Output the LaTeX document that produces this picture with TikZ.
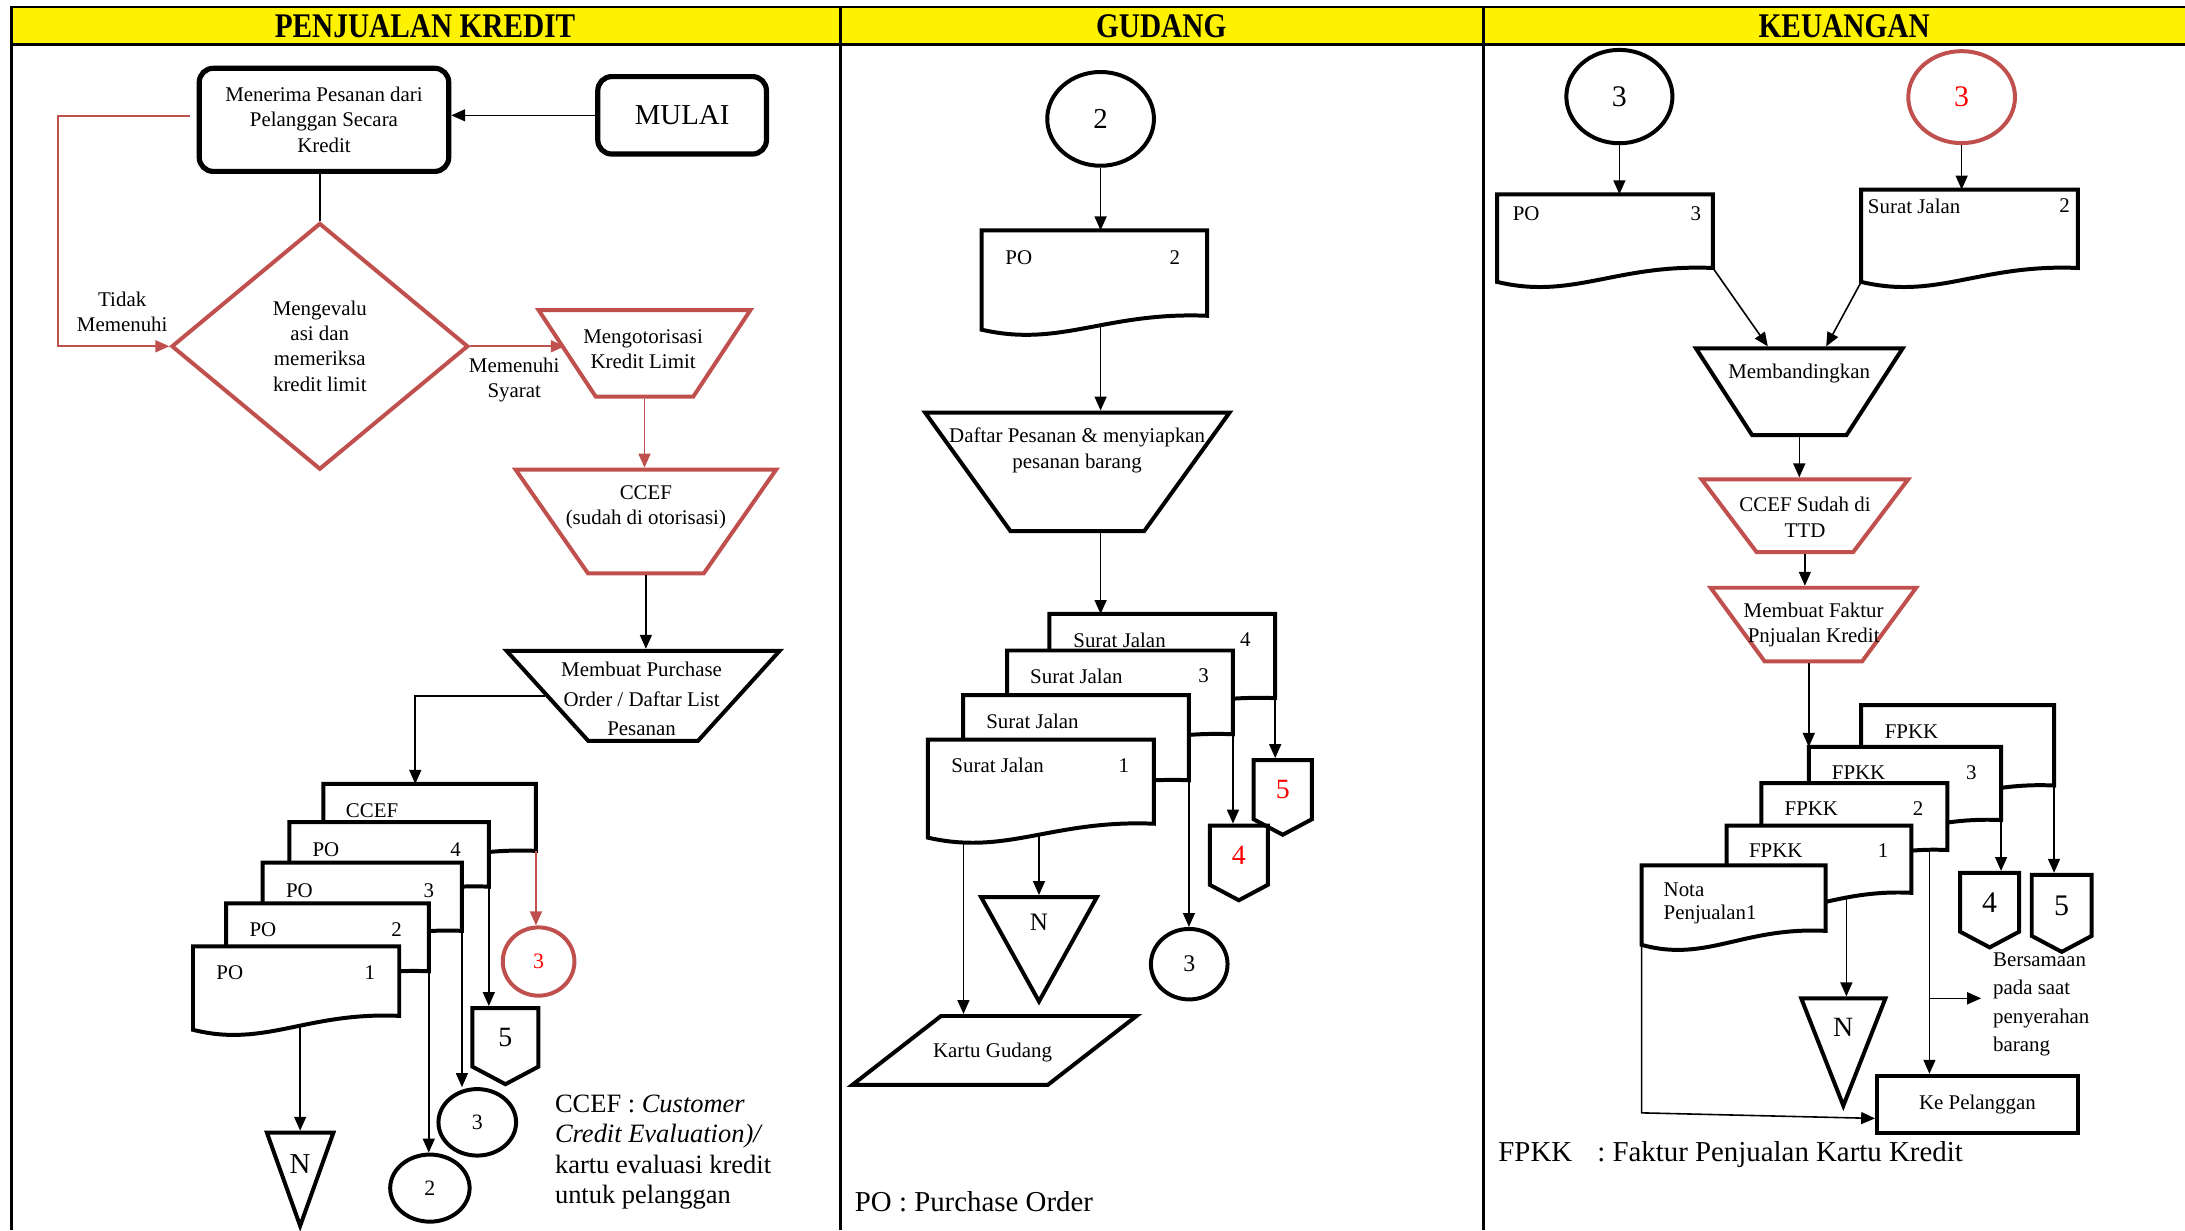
\documentclass[tikz,border=0pt]{standalone}
\usepackage{fontspec}
\setmainfont{Liberation Serif}
\usetikzlibrary{shapes.geometric,shapes.symbols,arrows.meta,calc}
\definecolor{merahgaris}{HTML}{C0504D}

\newcommand{\dokumen}[5]{%
  \draw[garisdok] (#2,#3) -- (#4,#3) -- (#4,#5)
    .. controls ({#2+0.55*(#4-#2)},#5-3) and ({#2+0.35*(#4-#2)},#5+23) .. (#2,#5+10) -- cycle;
  \coordinate (#1-tl) at (#2,#3);
  \coordinate (#1-top) at ({(#2+#4)/2},#3);
  \coordinate (#1-br) at (#4,#5);
  \coordinate (#1-bl) at (#2,#5+10);
  \coordinate (#1-mid) at ({(#2+#4)/2},#5+8);
}

\begin{document}
\begin{tikzpicture}[x=0.7pt,y=-0.7pt,
    garis/.style={line width=1.4pt},
    panah/.style={-{Triangle[length=7pt,width=6pt]},line width=0.8pt},
    panahmerah/.style={panah,draw=merahgaris},
    teks/.style={inner sep=0pt,align=center,font=\fontsize{10.5pt}{12.6pt}\selectfont},
    besar/.style={inner sep=0pt,font=\fontsize{14.5pt}{17pt}\selectfont},
    judul/.style={inner sep=0pt,font=\fontsize{15.5pt}{18pt}\selectfont\bfseries},
    garisdok/.style={draw,line width=2pt,fill=white},
    proses/.style={draw,line width=2.6pt,rounded corners=7pt,fill=white,teks},
    keputusan/.style={diamond,draw=merahgaris,line width=2pt,teks},
    trap/.style={trapezium,trapezium stretches=true,shape border rotate=180,draw,line width=2pt,inner sep=1pt},
    jajar/.style={trapezium,trapezium stretches=true,draw,line width=2pt,inner sep=1pt},
    lingkar/.style={ellipse,draw,line width=2pt,inner sep=0pt},
    offpage/.style={signal,signal to=south,signal pointer angle=124,draw,line width=2pt,inner sep=0pt},
    segitiga/.style={isosceles triangle,isosceles triangle stretches,shape border rotate=270,draw,line width=2pt,inner sep=1pt},
    kotak/.style={draw,line width=2pt,teks}]
  \useasboundingbox (0,0) rectangle (1568,883);
  \fill[yellow] (8,5) rectangle (1568,32);
  \draw[garis] (1568,5) -- (8,5) -- (8,883) (8,32) -- (1568,32) (603.4,5) -- (603.4,883) (1064.5,5) -- (1064.5,883);
  \node[judul] (judul1) at (305,18.5) {\scalebox{0.95}[1.12]{PENJUALAN KREDIT}};
  \node[judul] (judul2) at (833.3,18.5) {\scalebox{0.95}[1.12]{GUDANG}};
  \node[judul] (judul3) at (1323.4,18.5) {\scalebox{0.95}[1.12]{KEUANGAN}};

  \node[proses,minimum width=125.3pt,minimum height=51.8pt] (terima) at (232.5,86) {Menerima Pesanan dari\\Pelanggan Secara\\Kredit};
  \node[proses,minimum width=84.7pt,minimum height=38.9pt,font=\fontsize{14.5pt}{17pt}\selectfont] (mulai) at (489.5,82.75) {MULAI};
  \node[keputusan,minimum width=149.1pt,minimum height=123.9pt] (evaluasi) at (229.5,248.5) {Mengevalu\\asi dan\\memeriksa\\kredit limit};
  \node[teks] (tidak-t) at (87.7,223.5) {Tidak\\Memenuhi};
  \node[teks] (memenuhi-t) at (369,273) {Memenuhi\\Syarat};
  \node[trap,draw=merahgaris,minimum width=106.4pt,minimum height=43.5pt,trapezium angle=59.6] (otorisasi) at (462.5,253.6) {};
  \node[teks] (otorisasi-t) at (461.5,250.6) {Mengotorisasi\\Kredit Limit};
  \node[trap,draw=merahgaris,minimum width=130.9pt,minimum height=52.1pt,trapezium angle=58] (ccef) at (463.5,374.2) {};
  \node[teks] (ccef-t) at (463.5,363.8) {CCEF\\(sudah di otorisasi)};
  \node[trap,minimum width=137.2pt,minimum height=45.2pt,trapezium angle=53.4] (membuat) at (461.5,499.3) {};
  \node[teks,font=\fontsize{10.5pt}{14.7pt}\selectfont] (membuat-t) at (460.4,501.6) {Membuat Purchase\\Order / Daftar List\\Pesanan};

  \dokumen{ccefd}{232}{562.5}{384.6}{610.6}
  \node[teks,anchor=west] (ccefd-l) at (248,581.4) {CCEF};
  \dokumen{po4}{207.7}{590}{350.8}{636.3}
  \node[teks,anchor=west] (po4-l) at (224,609.5) {PO};
  \node[teks] (po4-n) at (327,609.5) {4};
  \dokumen{po3}{188.5}{619}{331.5}{668}
  \node[teks,anchor=west] (po3-l) at (205,639) {PO};
  \node[teks] (po3-n) at (307.7,639) {3};
  \dokumen{po2}{162.3}{648.3}{307.7}{697}
  \node[teks,anchor=west] (po2-l) at (178.8,667.2) {PO};
  \node[teks] (po2-n) at (284.6,667.2) {2};
  \dokumen{po1}{138.5}{679.2}{286.5}{729}
  \node[teks,anchor=west] (po1-l) at (155,698) {PO};
  \node[teks] (po1-n) at (265.4,698) {1};

  \node[segitiga,minimum width=33.4pt,minimum height=46.8pt,anchor=north] (n1) at (215.4,811.4) {};
  \node[besar] (n1-t) at (215.4,835.4) {N};
  \node[lingkar,draw=merahgaris,text=red,minimum width=36pt,minimum height=34.3pt,font=\fontsize{11pt}{13pt}\selectfont] (sambung3m) at (386.5,690) {3};
  \node[lingkar,minimum width=39pt,minimum height=33.4pt,font=\fontsize{11pt}{13pt}\selectfont] (sambung3) at (342.5,805.4) {3};
  \node[lingkar,minimum width=39.9pt,minimum height=33.7pt,font=\fontsize{11pt}{13pt}\selectfont] (sambung2) at (308.5,852.6) {2};
  \node[offpage,minimum width=33.2pt,minimum height=31.3pt,font=\fontsize{14pt}{16pt}\selectfont] (hal5) at (362.7,744.4) {5};
  \node[teks,anchor=west,align=left,font=\fontsize{13.3pt}{15.2pt}\selectfont] (ket-ccef) at (398,826.8) {CCEF : \textit{Customer}\\\textit{Credit Evaluation)/}\\kartu evaluasi kredit\\untuk pelanggan};

  \node[lingkar,minimum width=53.6pt,minimum height=47.1pt,font=\fontsize{14.5pt}{17pt}\selectfont] (gd2) at (789.8,85.3) {2};
  \dokumen{pogd}{704.5}{165.3}{866.3}{226.6}
  \node[teks,anchor=west] (pogd-l) at (721.2,184.6) {PO};
  \node[teks] (pogd-n) at (843.1,184.6) {2};
  \node[trap,minimum width=153pt,minimum height=59.6pt,trapezium angle=57.4] (daftar) at (773.1,338.6) {};
  \node[teks] (daftar-t) at (773,323.2) {Daftar Pesanan \& menyiapkan\\pesanan barang};
  \dokumen{sj4}{753}{440.6}{915.1}{501}
  \node[teks,anchor=west] (sj4-l) at (770,459.3) {Surat Jalan};
  \node[teks] (sj4-n) at (893.7,459.3) {4};
  \dokumen{sj3}{722.7}{466.8}{884.8}{526.9}
  \node[teks,anchor=west] (sj3-l) at (739,485.2) {Surat Jalan};
  \node[teks] (sj3-n) at (863.7,485.2) {3};
  \dokumen{sj2}{691.1}{498.9}{853.2}{559.9}
  \node[teks,anchor=west] (sj2-l) at (707.5,517.3) {Surat Jalan};
  \dokumen{sj1}{665.9}{530.7}{828}{591.1}
  \node[teks,anchor=west] (sj1-l) at (682.5,549.2) {Surat Jalan};
  \node[teks] (sj1-n) at (806.5,549.2) {1};
  \node[offpage,text=red,minimum width=29.2pt,minimum height=31.6pt,font=\fontsize{14pt}{16pt}\selectfont] (gd5) at (920.5,566.7) {5};
  \node[offpage,text=red,minimum width=29.2pt,minimum height=31.6pt,font=\fontsize{14pt}{16pt}\selectfont] (gd4) at (889,613.7) {4};
  \node[lingkar,minimum width=38.5pt,minimum height=35.4pt,font=\fontsize{12pt}{14pt}\selectfont] (gd3) at (853.4,691.9) {3};
  \node[segitiga,minimum width=58.2pt,minimum height=52.4pt,anchor=north] (gdn) at (745.6,642.3) {};
  \node[teks,font=\fontsize{12.6pt}{14pt}\selectfont] (gdn-t) at (745.6,661.6) {N};
  \node[jajar,minimum width=142.7pt,minimum height=34.6pt,trapezium left angle=50.3,trapezium right angle=129.7] (kartu) at (713.6,753.8) {};
  \node[teks] (kartu-t) at (712.3,755.3) {Kartu Gudang};
  \node[besar,anchor=west] (ket-po) at (613.2,862.4) {PO : Purchase Order};

  \node[lingkar,minimum width=53.3pt,minimum height=46.9pt,font=\fontsize{15pt}{17pt}\selectfont] (kc3) at (1162.1,69.3) {3};
  \node[lingkar,draw=merahgaris,text=red,minimum width=53.6pt,minimum height=46.2pt,font=\fontsize{15pt}{17pt}\selectfont] (kc3m) at (1407.7,69.7) {3};
  \dokumen{pokeu}{1074.4}{139.4}{1229.2}{192.3}
  \node[teks,anchor=west] (pokeu-l) at (1085.3,153.4) {PO};
  \node[teks] (pokeu-n) at (1217,153.4) {3};
  \dokumen{sjkeu}{1335.6}{136}{1491.1}{192.3}
  \node[teks,anchor=west] (sjkeu-l) at (1340.2,147.8) {Surat Jalan};
  \node[teks] (sjkeu-n) at (1481.5,147.8) {2};
  \node[trap,minimum width=103.8pt,minimum height=43.5pt,trapezium angle=59.3] (banding) at (1291.2,281.1) {};
  \node[teks] (banding-t) at (1291.1,268.3) {Membandingkan};
  \node[trap,draw=merahgaris,minimum width=103.7pt,minimum height=36.5pt,trapezium angle=60.4] (ttd) at (1295.2,370.1) {};
  \node[teks] (ttd-t) at (1295.3,371.2) {CCEF Sudah di\\TTD};
  \node[trap,draw=merahgaris,minimum width=103.2pt,minimum height=37pt,trapezium angle=61] (faktur) at (1301.3,448.2) {};
  \node[teks] (faktur-t) at (1301.5,448.7) {Membuat Faktur\\Pnjualan Kredit};
  \dokumen{fk4}{1335.5}{506}{1474}{563.7}
  \node[teks,anchor=west] (fk4-l) at (1352.3,525.3) {FPKK};
  \dokumen{fk3}{1298}{536}{1436}{588.5}
  \node[teks,anchor=west] (fk3-l) at (1314.3,554.5) {FPKK};
  \node[teks] (fk3-n) at (1414.6,554.5) {3};
  \dokumen{fk2}{1264}{562}{1397.5}{610}
  \node[teks,anchor=west] (fk2-l) at (1280.4,580) {FPKK};
  \node[teks] (fk2-n) at (1376.5,580) {2};
  \dokumen{fk1}{1239}{592.4}{1371.7}{640.7}
  \node[teks,anchor=west] (fk1-l) at (1254.9,610.7) {FPKK};
  \node[teks] (fk1-n) at (1351.4,610.7) {1};
  \dokumen{nota}{1178}{621}{1310}{668}
  \node[teks,anchor=west,align=left,font=\fontsize{10.5pt}{11.5pt}\selectfont] (nota-l) at (1193.6,648.2) {Nota\\Penjualan1};
  \node[offpage,minimum width=29.7pt,minimum height=31.5pt,font=\fontsize{15pt}{17pt}\selectfont] (kp4) at (1427.8,647.5) {4};
  \node[offpage,minimum width=30.1pt,minimum height=32.7pt,font=\fontsize{15pt}{17pt}\selectfont] (kp5) at (1479.5,649.7) {5};
  \node[segitiga,minimum width=42.3pt,minimum height=53.9pt,anchor=north] (kn) at (1322.8,715) {};
  \node[teks,font=\fontsize{14pt}{16pt}\selectfont] (kn-t) at (1322.6,737.3) {N};
  \node[kotak,minimum width=100.8pt,minimum height=28.7pt] (pelanggan) at (1419,792.5) {Ke Pelanggan};
  \node[teks,anchor=west,align=left,inner xsep=5.8pt,font=\fontsize{10.5pt}{14.3pt}\selectfont] (bersamaan) at (1421.7,720.9) {Bersamaan\\pada saat\\penyerahan\\barang};
  \node[besar,anchor=west] (ket-fpkk) at (1075,828.7) {FPKK\hspace{12.6pt}: Faktur Penjualan Kartu Kredit};

  \draw[panah] (mulai.west) -- (mulai.west -| terima.east);
  \draw[line width=0.8pt] (evaluasi.north |- terima.south) -- (evaluasi.north);
  \coordinate (tidak) at (41.5,248.5);
  \draw[panahmerah] ([xshift=-3.5pt,yshift=2pt]terima.west) -| (tidak) -- (evaluasi.west);
  \draw[panahmerah] (evaluasi.east) -- (otorisasi.west |- evaluasi.east);
  \draw[panahmerah] (otorisasi.south) -- (otorisasi.south |- ccef.north);
  \draw[panah] (ccef.south) -- (ccef.south |- membuat.north);
  \coordinate (ccefd-masuk) at (298,562.5);
  \draw[panah] (membuat.west) -| (ccefd-masuk);
  \draw[panah] (n1.north |- po1-mid) -- (n1.north);
  \draw[panah] (po2-br) -- (po2-br |- sambung2.north);
  \draw[panah] (po3-br) -- (po3-br |- sambung3.north);
  \draw[panah] (po4-br) -- (po4-br |- hal5.north);
  \draw[panahmerah] (ccefd-br) -- (ccefd-br |- sambung3m.north);

  \draw[panah] (gd2.south) -- (gd2.south |- pogd-top);
  \draw[panah] (gd2.south |- pogd-mid) -- (gd2.south |- daftar.north);
  \draw[panah] (gd2.south |- daftar.south) -- (gd2.south |- sj4-top);
  \draw[panah] (sj4-br) -- (sj4-br |- gd5.north);
  \draw[panah] (sj3-br) -- (sj3-br |- gd4.north);
  \draw[panah] (sj2-br) -- (sj2-br |- gd3.north);
  \draw[panah] (gdn.north |- sj1-mid) -- (gdn.north);
  \coordinate (sj1-kiri) at (691.4,604);
  \draw[panah] (sj1-kiri) -- (sj1-kiri |- kartu.north);

  \draw[panah] (kc3.south) -- (kc3.south |- pokeu-top);
  \draw[panah] (kc3m.south) -- (kc3m.south |- sjkeu-top);
  \draw[panah] (pokeu-br) -- ([xshift=-15.8pt]banding.north);
  \draw[panah] (sjkeu-bl) -- ([xshift=13.5pt]banding.north);
  \draw[panah] (banding.south) -- (banding.south |- ttd.north);
  \draw[panah] (ttd.south) -- (ttd.south |- faktur.north);
  \draw[panah] (faktur.south -| fk3-tl) -- (fk3-tl);
  \draw[panah] (fk4-br) -- (fk4-br |- kp5.north);
  \draw[panah] (fk3-br) -- (fk3-br |- kp4.north);
  \coordinate (fk2-keluar) at (1384.6,611);
  \coordinate (cabang) at (1384.6,716.4);
  \draw[panah] (fk2-keluar) -- (fk2-keluar |- pelanggan.north);
  \draw[panah] (cabang) -- (bersamaan.west |- cabang);
  \coordinate (nota-keluar) at (1325,645);
  \draw[panah] (nota-keluar) -- (nota-keluar |- kn.north);
  \coordinate (nota-sudut) at (1178,798.6);
  \draw[panah] (nota-bl) -- (nota-sudut) -- ($(pelanggan.south west)!0.27!(pelanggan.north west)$);
\end{tikzpicture}
\end{document}
